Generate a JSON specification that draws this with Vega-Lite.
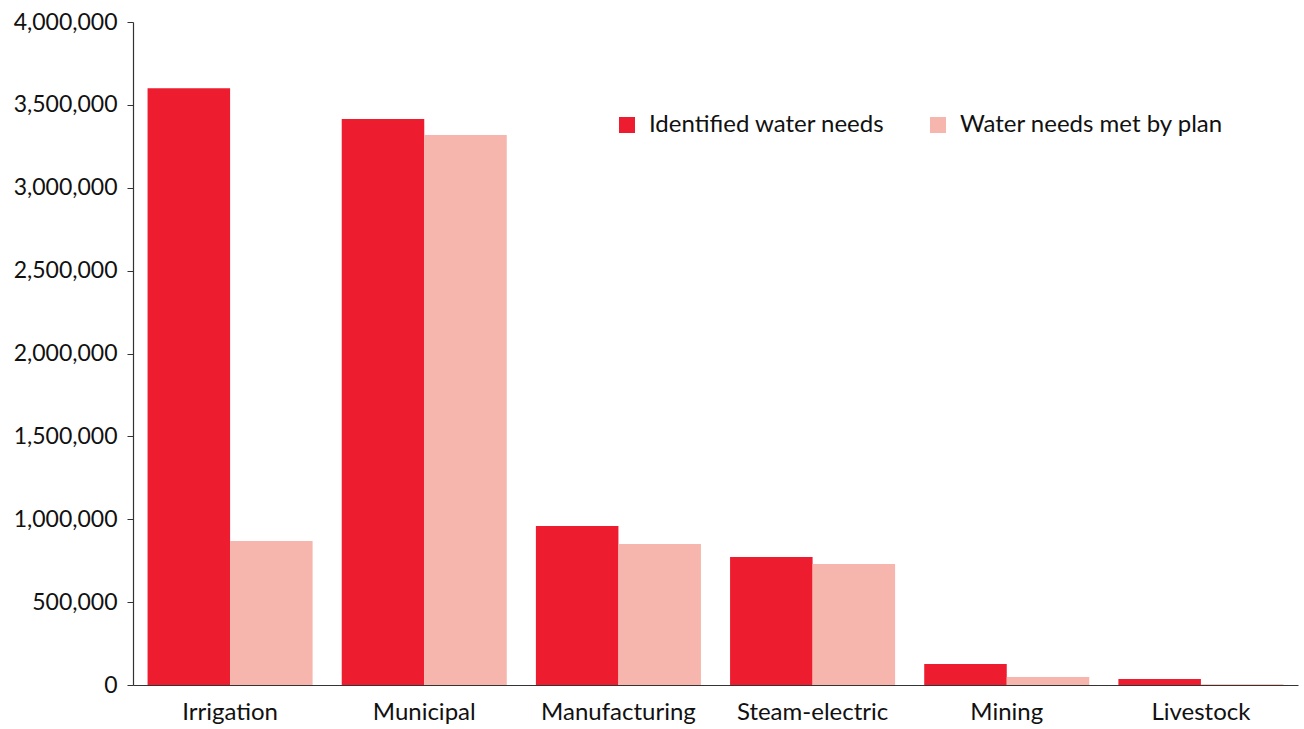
{
  "$schema": "https://vega.github.io/schema/vega-lite/v6.json",
  "autosize": "none",
  "width": 1165,
  "height": 663,
  "padding": {"left": 133, "top": 22, "right": 6, "bottom": 44},
  "background": "white",
  "config": {
    "view": {"stroke": null},
    "font": "Lato",
    "axis": {"labelFont": "Lato", "labelColor": "#111", "grid": false, "domainColor": "#333", "tickColor": "#333", "title": null}
  },
  "data": {
    "values": [
      {"category": "Irrigation", "series": "Identified water needs", "value": 3600000},
      {"category": "Irrigation", "series": "Water needs met by plan", "value": 869000},
      {"category": "Municipal", "series": "Identified water needs", "value": 3415000},
      {"category": "Municipal", "series": "Water needs met by plan", "value": 3318000},
      {"category": "Manufacturing", "series": "Identified water needs", "value": 959000},
      {"category": "Manufacturing", "series": "Water needs met by plan", "value": 851000},
      {"category": "Steam-electric", "series": "Identified water needs", "value": 772000},
      {"category": "Steam-electric", "series": "Water needs met by plan", "value": 730000},
      {"category": "Mining", "series": "Identified water needs", "value": 127000},
      {"category": "Mining", "series": "Water needs met by plan", "value": 48000},
      {"category": "Livestock", "series": "Identified water needs", "value": 36000},
      {"category": "Livestock", "series": "Water needs met by plan", "value": 5000}
    ]
  },
  "mark": {"type": "bar"},
  "encoding": {
    "x": {
      "field": "category", "type": "nominal", "sort": null,
      "scale": {"paddingInner": 0.15, "paddingOuter": 0.075},
      "axis": {"labelAngle": 0, "ticks": false, "labelPadding": 15, "domainWidth": 1.2, "labelFontSize": 24}
    },
    "xOffset": {"field": "series", "type": "nominal", "scale": {"paddingInner": 0, "paddingOuter": 0}},
    "y": {
      "field": "value", "type": "quantitative",
      "scale": {"domain": [0, 4000000], "nice": false},
      "axis": {"values": [0, 500000, 1000000, 1500000, 2000000, 2500000, 3000000, 3500000, 4000000], "format": ",d", "tickSize": 6, "labelPadding": 10, "domainWidth": 1.2, "labelFontSize": 23}
    },
    "color": {
      "field": "series", "type": "nominal",
      "scale": {"domain": ["Identified water needs", "Water needs met by plan"], "range": ["#ED1C2E", "#F7B6AD"]},
      "legend": {
        "title": null, "orient": "none", "legendX": 482, "legendY": 91, "direction": "horizontal",
        "symbolType": "square", "symbolSize": 256, "symbolStrokeWidth": 0, "labelFontSize": 24, "labelFont": "Lato", "labelColor": "#111",
        "labelLimit": 0, "columnPadding": 41, "labelOffset": 10
      }
    }
  }
}
